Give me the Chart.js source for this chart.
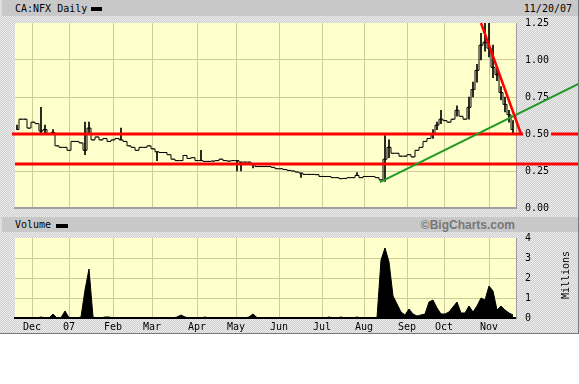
<!DOCTYPE html>
<html>
<head>
<meta charset="utf-8">
<script src="https://cdn.jsdelivr.net/npm/chart.js@4.4.0/dist/chart.umd.min.js"></script>
<style>
  body { margin: 0; background: #fff; }
  #frame {
    position: absolute; left: 0; top: 0; width: 579px; height: 334px;
    box-sizing: border-box; border-right: 1px solid #777; border-bottom: 1px solid #777;
    background: #dcdcdc repeating-conic-gradient(#cdcdcd 0 25%, #eeeeee 0 50%) 0 0/2px 2px;
    font-family: 'DejaVu Sans Mono', monospace; font-size: 10px; color: #000;
  }
  .band { position: absolute; left: 2px; right: 0; background: #c8c8c8; }
  .txt { position: absolute; white-space: nowrap; line-height: 12px; }
  .key { position: absolute; background: #000; }
  canvas { position: absolute; left: 0; }
</style>
</head>
<body>
<div id="frame">
  <div class="band" style="top:0;height:16px"></div>
  <div class="txt" style="left:15px;top:3px">CA:NFX Daily</div>
  <div class="key" style="left:91px;top:7px;width:11px;height:4px"></div>
  <div class="txt" style="right:6px;top:3px">11/20/07</div>

  <canvas id="price" width="578" height="198" style="top:17px"></canvas>

  <div class="band" style="top:217px;height:15px"></div>
  <div class="txt" style="left:15px;top:219px">Volume</div>
  <div class="key" style="left:56px;top:224px;width:12px;height:4px"></div>
  <div class="txt" style="right:63px;top:218px;font-family:'Liberation Sans',Arial,sans-serif;font-weight:bold;font-size:12px;line-height:14px;color:#777">©BigCharts.com</div>

  <canvas id="volume" width="578" height="100" style="top:233px"></canvas>
  <div class="txt" style="left:541px;top:269px;width:50px;text-align:center;transform:rotate(-90deg)">Millions</div>
</div>

<script>
// month grid positions (bar index) and labels
const monthPos = [3.75, 13, 24, 33.75, 45, 54.75, 65.5, 76.25, 86.75, 97.5, 106.75, 118];
const monthLabels = ["Dec", "07", "Feb", "Mar", "Apr", "May", "Jun", "Jul", "Aug", "Sep", "Oct", "Nov"];

// price, one entry per ~2 trading days
const closes = [
  .53, .60, .60, .54, .58, .57, .52, .53, .50, .51,
  .42, .41, .41, .39, .45, .45, .44, .39, .54, .46,
  .48, .46, .47, .45, .46, .47, .46, .45, .42, .41,
  .39, .41, .41, .42, .40, .38, .375, .375, .36, .33,
  .32, .32, .355, .335, .34, .32, .32, .315, .315, .317,
  .32, .33, .32, .317, .32, .32, .31, .31, .31, .30,
  .28, .28, .28, .28, .275, .265, .265, .26, .254, .25,
  .243, .236, .227, .227, .227, .225, .213, .213, .213, .205,
  .205, .198, .20, .205, .205, .22, .205, .213, .213, .213,
  .205, .19, .33, .41, .37, .37, .35, .35, .36, .345,
  .39, .41, .45, .47, .50, .56, .60, .59, .58, .60,
  .66, .62, .60, .68, .80, .93, 1.10, 1.12, 1.08, .95,
  .90, .78, .70, .63, .53
];
const highs = [
  .56, .60, .60, .54, .58, .57, .68, .56, .50, .53,
  .42, .41, .41, .39, .45, .45, .44, .58, .58, .46,
  .48, .46, .47, .45, .46, .47, .54, .45, .42, .41,
  .39, .41, .41, .42, .40, .38, .375, .375, .36, .33,
  .32, .32, .355, .335, .34, .32, .39, .315, .315, .317,
  .32, .33, .32, .317, .32, .32, .31, .31, .31, .30,
  .28, .28, .28, .28, .275, .265, .265, .26, .254, .25,
  .243, .236, .227, .227, .227, .225, .213, .213, .213, .205,
  .205, .198, .20, .205, .205, .24, .205, .213, .213, .213,
  .205, .19, .49, .46, .37, .37, .35, .35, .36, .345,
  .39, .41, .45, .47, .53, .58, .66, .59, .58, .60,
  .69, .62, .60, .75, .85, .97, 1.18, 1.25, 1.25, 1.10,
  .95, .82, .75, .66, .59
];
const lows = [
  .53, .60, .60, .54, .58, .57, .50, .50, .50, .51,
  .42, .41, .41, .39, .45, .45, .44, .36, .50, .46,
  .48, .46, .47, .45, .46, .47, .46, .45, .42, .41,
  .39, .41, .41, .42, .40, .32, .375, .375, .36, .33,
  .32, .32, .355, .335, .34, .32, .32, .315, .315, .317,
  .32, .33, .32, .317, .32, .25, .25, .31, .31, .27,
  .28, .28, .28, .28, .275, .265, .265, .26, .254, .25,
  .243, .207, .227, .227, .227, .225, .213, .213, .213, .205,
  .205, .198, .20, .205, .205, .22, .205, .213, .213, .213,
  .205, .19, .18, .34, .37, .37, .35, .35, .36, .345,
  .39, .41, .45, .47, .47, .53, .57, .59, .58, .60,
  .62, .62, .60, .60, .75, .85, 1.00, 1.06, 1.02, .88,
  .86, .73, .65, .58, .50
];

// volume in millions
const volumes = [
  0, 0, .02, 0, 0, 0, .05, 0, 0, .2,
  0, .02, .35, .02, 0, 0, .05, 1.4, 2.45, .05,
  0, 0, .05, .05, 0, 0, 0, 0, 0, 0,
  0, 0, 0, 0, 0, 0, 0, .02, .02, 0,
  .05, .15, .05, 0, 0, 0, 0, .05, 0, 0,
  0, 0, 0, 0, 0, .03, 0, 0, .05, .2,
  .02, 0, 0, 0, 0, 0, 0, 0, 0, 0,
  0, 0, 0, 0, .02, .02, 0, 0, .05, 0,
  0, .05, 0, 0, 0, .05, 0, 0, 0, .02,
  .02, 2.9, 3.5, 2.8, 1.1, .7, .3, .15, .45, .2,
  .1, .15, .2, .8, .9, .5, .2, .2, .3, .55,
  .8, .25, .25, .6, .3, .6, 1.0, .9, 1.6, 1.35,
  .4, .6, .4, .25, .15
];

// drawn lines
const levels = [0.50, 0.30];
const upTrendX = [90.75, 140.5];
const upTrendY = [0.175, 0.84];
const downTrendX = [116, 126];
const downTrendY = [1.25, 0.50];

const priceTicks = [0, 0.25, 0.5, 0.75, 1.0, 1.25];
const volumeTicks = [0, 1, 2, 3, 4];

Chart.defaults.font.family = "'DejaVu Sans Mono', monospace";
Chart.defaults.font.size = 10;
Chart.defaults.color = "#000";
Chart.defaults.animation = false;

const gridColor = "#cccc99";

const plotBg = {
  id: "plotBg",
  beforeDraw(chart) {
    const a = chart.chartArea;
    chart.ctx.save();
    chart.ctx.fillStyle = "#ffffcc";
    chart.ctx.fillRect(a.left, a.top, a.right - a.left, a.bottom - a.top);
    chart.ctx.restore();
  },
};

const trendLines = {
  id: "trendLines",
  afterDatasetsDraw(chart) {
    const ctx = chart.ctx;
    const y = chart.scales.y;
    ctx.save();
    ctx.strokeStyle = "#ff0000";
    ctx.lineWidth = 3;
    levels.forEach((lvl, k) => {
      const py = Math.round(y.getPixelForValue(lvl));
      ctx.beginPath();
      ctx.moveTo(chart.chartArea.left - (k == 0 ? 3 : 0), py);
      ctx.lineTo(chart.width, py);
      ctx.stroke();
    });
    ctx.restore();
  },
  afterDraw(chart) {
    const ctx = chart.ctx;
    const x = chart.scales.x;
    const y = chart.scales.y;
    ctx.save();
    ctx.lineWidth = 2;
    ctx.strokeStyle = "#229922";
    ctx.beginPath();
    ctx.moveTo(x.getPixelForValue(upTrendX[0]), y.getPixelForValue(upTrendY[0]));
    ctx.lineTo(x.getPixelForValue(upTrendX[1]), y.getPixelForValue(upTrendY[1]));
    ctx.stroke();
    ctx.strokeStyle = "#ff0000";
    ctx.lineWidth = 2.5;
    ctx.beginPath();
    ctx.moveTo(x.getPixelForValue(downTrendX[0]), y.getPixelForValue(downTrendY[0]));
    ctx.lineTo(x.getPixelForValue(downTrendX[1]), y.getPixelForValue(downTrendY[1]));
    ctx.stroke();
    ctx.restore();
  },
};

function monthAxis(showLabels, borderColor) {
  return {
    type: "linear",
    min: -0.5,
    max: 124.75,
    offset: false,
    afterBuildTicks: (axis) => {
      axis.ticks = monthPos.map((v) => ({ value: v }));
    },
    afterFit: (axis) => {
      axis.height = showLabels ? 14 : 0;
      axis.paddingLeft = 0;
      axis.paddingRight = 0;
    },
    grid: { color: gridColor, lineWidth: 1, drawTicks: false, offset: false },
    border: { color: borderColor, width: 2 },
    ticks: {
      display: showLabels,
      autoSkip: false,
      maxRotation: 0,
      padding: 3,
      callback: (v, i) => monthLabels[i],
    },
  };
}

function valueAxis(tickValues, fmt, backdropAt) {
  const top = tickValues[tickValues.length - 1];
  return {
    type: "linear",
    position: "right",
    min: tickValues[0],
    max: top,
    afterBuildTicks: (axis) => {
      axis.ticks = tickValues.map((v) => ({ value: v }));
    },
    afterFit: (axis) => {
      axis.width = 62;
      axis.paddingTop = 0;
      axis.paddingBottom = 0;
    },
    grid: {
      drawTicks: false,
      color: (c) => (c.tick && c.tick.value === top ? "rgba(0,0,0,0)" : gridColor),
    },
    border: { color: "#999", width: 1 },
    ticks: {
      padding: 9,
      z: 1,
      callback: fmt,
      showLabelBackdrop: true,
      backdropPadding: 2,
      backdropColor: (c) => (c.tick && c.tick.value === backdropAt ? "#dcdcdc" : "rgba(0,0,0,0)"),
    },
  };
}

new Chart(document.getElementById("price"), {
  type: "line",
  data: {
    datasets: [
      {
        type: "bar",
        data: highs.map((h, i) => ({ x: i, y: [lows[i], h] })),
        backgroundColor: "#000",
        barThickness: 1,
      },
      {
        type: "line",
        data: closes.map((c, i) => ({ x: i, y: c })),
        stepped: "middle",
        borderColor: "#000",
        borderWidth: 1,
        pointRadius: 0,
      },
    ],
  },
  options: {
    responsive: false,
    layout: { padding: { left: 15, right: 0, top: 6, bottom: 7 } },
    plugins: { legend: { display: false }, tooltip: { enabled: false } },
    scales: {
      x: monthAxis(false, "#a0a0a0"),
      y: valueAxis(priceTicks, (v) => v.toFixed(2), 0.5),
    },
  },
  plugins: [plotBg, trendLines],
});

new Chart(document.getElementById("volume"), {
  type: "line",
  data: {
    datasets: [
      {
        data: volumes.map((v, i) => ({ x: i, y: v })),
        fill: "origin",
        backgroundColor: "#000",
        borderColor: "#000",
        borderWidth: 1,
        pointRadius: 0,
      },
    ],
  },
  options: {
    responsive: false,
    layout: { padding: { left: 15, right: 0, top: 5, bottom: 1 } },
    plugins: { legend: { display: false }, tooltip: { enabled: false } },
    scales: {
      x: monthAxis(true, "#000"),
      y: valueAxis(volumeTicks, (v) => String(v), null),
    },
  },
  plugins: [plotBg],
});
</script>
</body>
</html>
